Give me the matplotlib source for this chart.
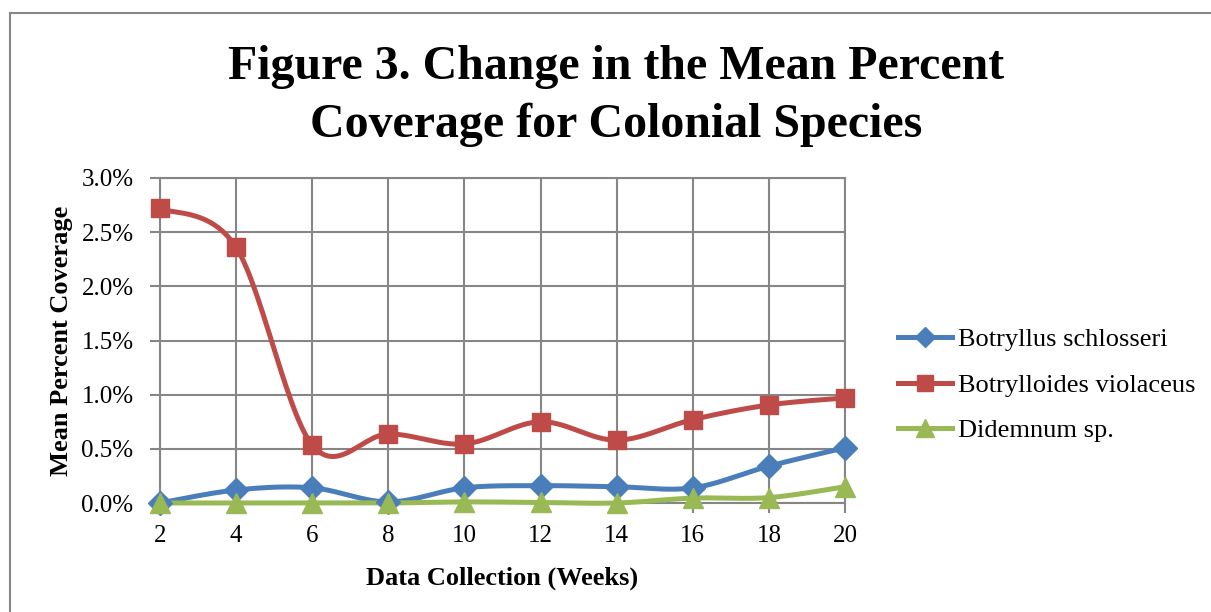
import numpy as np
import matplotlib
matplotlib.use("Agg")
import matplotlib.pyplot as plt
from matplotlib.ticker import PercentFormatter
from matplotlib.patches import Rectangle

weeks = [2, 4, 6, 8, 10, 12, 14, 16, 18, 20]
botryllus = [0.000, 0.120, 0.140, 0.010, 0.140, 0.160, 0.150, 0.140, 0.340, 0.510]
botrylloides = [2.720, 2.360, 0.535, 0.637, 0.545, 0.750, 0.580, 0.770, 0.905, 0.970]
didemnum = [0.000, 0.000, 0.000, 0.000, 0.010, 0.005, 0.000, 0.045, 0.050, 0.150]
names = ["Botryllus schlosseri", "Botrylloides violaceus", "Didemnum sp."]

plt.rcParams["font.family"] = ["Liberation Serif", "DejaVu Serif"]


def smooth(x, y, n=30):
    # bezier smoothing like the spreadsheet "smoothed line" option
    x = np.asarray(x, float)
    y = np.asarray(y, float)
    px = np.concatenate([[x[0]], x, [x[-1]]])
    py = np.concatenate([[y[0]], y, [y[-1]]])
    t = np.linspace(0, 1, n)
    xs, ys = [], []
    for i in range(1, len(px) - 2):
        p0 = np.array([px[i], py[i]])
        p3 = np.array([px[i + 1], py[i + 1]])
        p1 = p0 + (np.array([px[i + 1], py[i + 1]]) - np.array([px[i - 1], py[i - 1]])) / 6
        p2 = p3 - (np.array([px[i + 2], py[i + 2]]) - np.array([px[i], py[i]])) / 6
        b = ((1 - t) ** 3)[:, None] * p0 + (3 * (1 - t) ** 2 * t)[:, None] * p1 \
            + (3 * (1 - t) * t ** 2)[:, None] * p2 + (t ** 3)[:, None] * p3
        xs.extend(b[:, 0])
        ys.extend(b[:, 1])
    return np.array(xs), np.array(ys)


fig = plt.figure(figsize=(12.11, 6.12), dpi=100)
fig.patches.append(Rectangle((10 / 1211, -0.1), 1.2, 1 - 13 / 612 + 0.1, transform=fig.transFigure,
                             fill=False, edgecolor="#868686", linewidth=1.5, zorder=0))

ax = fig.add_axes([160 / 1211, 1 - 503 / 612, 685 / 1211, 325 / 612])

series = [(botryllus, "#4A7EBB", "D", 12), (botrylloides, "#BE4B48", "s", 13.5), (didemnum, "#98B954", "^", 15)]
for (vals, color, marker, ms), name in zip(series, names):
    sx, sy = smooth(weeks, vals)
    ax.plot(sx, sy, color=color, linewidth=3.6, solid_capstyle="round", clip_on=False, zorder=3)
    ax.plot(weeks, vals, linestyle="none", marker=marker, markersize=ms, color=color, clip_on=False, zorder=4)
    ax.plot([], [], color=color, linewidth=3.6, marker=marker, markersize=ms * 0.85, label=name)

ax.set_xlim(2, 20)
ax.set_ylim(0, 3.0)
ax.set_xticks(weeks)
ax.set_yticks(np.arange(0, 3.01, 0.5))
ax.yaxis.set_major_formatter(PercentFormatter(decimals=1))
ax.grid(True, color="#868686", linewidth=1.5)
ax.set_axisbelow(True)
for s in ax.spines.values():
    s.set_color("#868686")
    s.set_linewidth(1.5)
ax.tick_params(axis="both", labelsize=18, color="#868686", width=1.5, length=7)
ax.tick_params(axis="y", pad=12)
ax.tick_params(axis="x", pad=9)

ax.set_xlabel("Data Collection (Weeks)", fontsize=19, fontweight="bold", labelpad=14)
ax.set_ylabel("Mean Percent Coverage", fontsize=19, fontweight="bold", labelpad=6)

fig.text(616 / 1211, 1 - 96 / 612, "Figure 3. Change in the Mean Percent\nCoverage for Colonial Species",
         ha="center", va="center", fontsize=34.5, fontweight="bold", linespacing=1.38)

leg = ax.legend(loc="center left", bbox_to_anchor=(874 / 1211, 1 - 385 / 612), bbox_transform=fig.transFigure,
                frameon=False, fontsize=19, handlelength=2.05, handletextpad=0.25, labelspacing=0.83)

fig.savefig("out.png", dpi=100)
